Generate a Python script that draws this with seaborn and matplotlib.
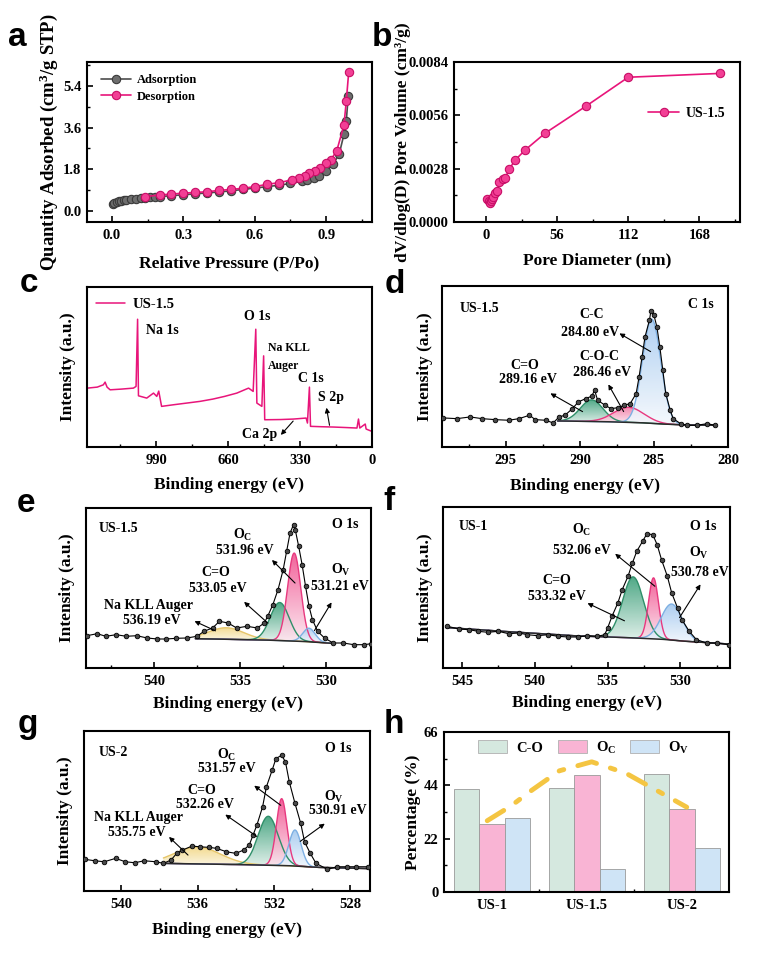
import numpy as np
import pandas as pd
import matplotlib
matplotlib.use("Agg")
import matplotlib.pyplot as plt
import seaborn as sns
from matplotlib.colors import LinearSegmentedColormap, to_rgb
from matplotlib.patches import FancyArrowPatch, Patch
from matplotlib.ticker import AutoMinorLocator, FixedLocator, FormatStrFormatter

# ---------------- data ----------------
# (a) N2 isotherm
ads_p = [0.005, 0.01, 0.02, 0.03, 0.04, 0.05, 0.06, 0.08, 0.10, 0.12, 0.14, 0.16, 0.18, 0.20,
         0.25, 0.30, 0.35, 0.40, 0.45, 0.50, 0.55, 0.60, 0.65, 0.70, 0.75, 0.80, 0.82, 0.85,
         0.87, 0.90, 0.93, 0.955, 0.975, 0.985, 0.993]
ads_q = [0.27, 0.33, 0.38, 0.41, 0.44, 0.46, 0.48, 0.50, 0.52, 0.54, 0.56, 0.58, 0.60, 0.61,
         0.65, 0.69, 0.73, 0.77, 0.81, 0.86, 0.92, 0.98, 1.04, 1.10, 1.18, 1.27, 1.33, 1.43,
         1.52, 1.72, 2.02, 2.45, 3.30, 3.90, 4.95]
des_p = [0.995, 0.985, 0.975, 0.945, 0.92, 0.90, 0.875, 0.855, 0.83, 0.81, 0.785, 0.755,
         0.70, 0.65, 0.60, 0.55, 0.50, 0.45, 0.40, 0.35, 0.30, 0.25, 0.20, 0.14]
des_q = [6.00, 4.75, 3.70, 2.60, 2.20, 2.05, 1.86, 1.73, 1.62, 1.52, 1.43, 1.33,
         1.21, 1.14, 1.04, 0.97, 0.92, 0.88, 0.82, 0.79, 0.76, 0.72, 0.68, 0.61]

# (b) pore size distribution
pore_d = [1.0, 2.1, 3.1, 3.9, 5.0, 5.8, 7.1, 8.9, 10.5, 13.1, 15.2, 18.4, 22.8, 31.0, 46.7, 78.7, 112.0, 184.0]
pore_v = [0.00123, 0.00109, 0.00100, 0.00109, 0.00123, 0.00132, 0.00150, 0.00162, 0.00211, 0.00224,
          0.00232, 0.00278, 0.00324, 0.00379, 0.00467, 0.00608, 0.00760, 0.00780]

# (c) survey spectrum
surv_be = [1305, 1260, 1232, 1224, 1215, 1201, 1150, 1094, 1082, 1075, 1071, 1033, 1002, 987, 978,
           965, 911, 850, 789, 730, 676, 620, 566, 545, 533, 528, 505, 497, 492, 420, 360, 302,
           296, 287, 282, 230, 177, 120, 69, 62, 56, 31, 27, 1]
surv_i = [59, 60, 62.3, 65, 60, 57.3, 58, 59, 60.7, 128, 51.3, 49, 54, 50.7, 56,
          40.7, 42.3, 44, 45.7, 48, 50.7, 54, 59, 55.7, 118, 44, 40.7, 91.3, 27.3, 27.5, 28, 29,
          24, 60, 20.7, 20.3, 20, 19.5, 19, 28, 19, 23, 18, 15.7]

# (d) C 1s
d_be = [299.2, 298.3, 297.4, 296.6, 295.7, 294.8, 294.1, 293.4, 293.0, 292.3, 291.8, 291.4, 291.0,
        290.5, 290.1, 289.6, 289.2, 289.0, 288.8, 288.3, 287.9, 287.4, 287.0, 286.6, 286.2, 286.0,
        285.8, 285.6, 285.3, 285.2, 285.0, 284.8, 284.6, 284.4, 284.2, 283.9, 283.7, 283.2, 282.8,
        282.1, 281.4, 280.9]
d_int = [29, 28.3, 30, 28.3, 27.3, 26.7, 28.3, 31.7, 27.3, 26.7, 24, 30, 31.7,
         38.3, 45, 48.3, 50.7, 56.7, 46.7, 41.7, 38.3, 39.3, 41.7, 43.3, 53.3, 70,
         90, 110, 126.7, 136, 131.7, 120, 100, 76.7, 53.3, 36.7, 28.3, 23.3, 21.7,
         21.7, 23.3, 21.7]
d_bg_be = [291.5, 289.5, 287.5, 285.5, 284.0, 282.5, 280.8]
d_bg_i = [26.0, 25.6, 25.0, 24.0, 22.6, 21.8, 21.7]
d_names = ["C=O", "C-O-C", "C-C"]
d_center = [289.2, 286.7, 285.15]
d_height = [21.5, 15.0, 104.0]
d_fwhm = [1.8, 2.4, 1.45]

# (e) O 1s US-1.5
e_be = [543.9, 543.3, 542.8, 542.2, 541.6, 541.0, 540.4, 539.8, 539.3, 538.7, 538.1, 537.5, 537.1,
        536.6, 536.2, 535.7, 535.2, 534.6, 534.0, 533.6, 533.4, 533.1, 532.8, 532.5, 532.3, 532.1,
        531.9, 531.8, 531.6, 531.4, 531.2, 531.0, 530.8, 530.5, 530.1, 529.6, 529.0, 528.4, 527.8, 527.4]
e_int = [32.3, 34.3, 31.7, 33.3, 31.7, 32.3, 30, 29, 29, 29.7, 30, 31.7, 36.7,
         40, 46.7, 45, 40, 41.7, 40, 45, 51.7, 63.3, 78.3, 98.3, 116.7, 135,
         143.3, 138.3, 121.7, 103.3, 81.7, 61.7, 48.3, 36.7, 30, 25, 25, 23.3, 23.3, 24.3]
e_bg_be = [537.6, 535.0, 533.0, 531.0, 529.5]
e_bg_i = [29.3, 28.5, 27.7, 26.3, 24.5]
e_names = ["Na KLL Auger", "C=O", "O_C", "O_V"]
e_center = [535.8, 532.7, 531.86, 531.0]
e_height = [11.5, 38.0, 88.0, 13.5]
e_fwhm = [2.4, 1.3, 0.9, 0.85]

# (f) O 1s US-1
f_be = [546.0, 545.2, 544.5, 543.9, 543.2, 542.5, 541.8, 541.1, 540.5, 539.8, 539.1, 538.4, 537.7,
        537.0, 536.4, 535.7, 535.2, 535.0, 534.7, 534.3, 534.0, 533.6, 533.3, 533.0, 532.6, 532.3,
        531.9, 531.6, 531.3, 530.9, 530.6, 530.2, 529.9, 529.4, 528.9, 528.2, 527.5, 526.7]
f_int = [41.7, 39, 38.3, 36.7, 35.7, 36.7, 34.3, 35, 33.3, 32.3, 33.3, 31.7, 31,
         31, 32.3, 31.7, 33.3, 40, 51.7, 65, 78.3, 91.7, 105, 116.7, 126.7, 134.3,
         133.3, 123.3, 108.3, 91.7, 75, 60, 48.3, 36.7, 28.3, 25, 25, 23.3]
f_bg_be = [546.1, 541.0, 537.0, 535.0, 533.0, 531.0, 529.5, 526.7]
f_bg_i = [40.5, 35.5, 32.0, 31.0, 30.0, 28.5, 26.5, 24.0]
f_names = ["C=O", "O_C", "O_V"]
f_center = [533.25, 531.85, 530.6]
f_height = [61.0, 61.0, 36.0]
f_fwhm = [1.7, 0.8, 1.7]

# (g) O 1s US-2
g_be = [541.9, 541.4, 540.9, 540.3, 539.8, 539.3, 538.8, 538.2, 537.8, 537.4, 537.1, 536.8, 536.3,
        535.9, 535.4, 535.0, 534.5, 534.0, 533.6, 533.3, 533.1, 532.9, 532.6, 532.4, 532.1, 531.9,
        531.6, 531.4, 531.2, 530.9, 530.6, 530.4, 530.1, 529.8, 529.2, 528.7, 528.2, 527.7, 527.1]
g_int = [31.7, 30.3, 29.3, 32.7, 29.3, 28.3, 30.3, 29.3, 27.7, 31, 37.7, 41, 45,
         44.3, 43.7, 42.7, 39.3, 37.7, 41, 46, 56, 66, 84.3, 104.3, 121, 132.7,
         136, 129.3, 109.3, 87.7, 67.7, 49.3, 37.7, 27.7, 21.7, 24.3, 24.3, 24.3, 24.3]
g_bg_be = [537.8, 535.0, 533.0, 531.0, 529.5, 527.1]
g_bg_i = [27.7, 26.8, 26.2, 25.2, 23.5, 22.5]
g_names = ["Na KLL Auger", "C=O", "O_C", "O_V"]
g_center = [536.0, 532.3, 531.6, 530.9]
g_height = [17.0, 49.0, 67.0, 36.0]
g_fwhm = [2.8, 1.25, 0.65, 0.75]

# (h) oxygen species percentage
samples = ["US-1", "US-1.5", "US-2"]
pct_co = [42.4, 42.9, 48.7]
pct_oc = [28.0, 48.3, 34.1]
pct_ov = [30.4, 9.3, 18.1]
trend_x = [-0.05, 0.2, 0.42, 0.71, 1.05, 1.41, 1.73, 2.05]
trend_y = [29.4, 35.5, 42.0, 50.0, 53.7, 49.0, 42.0, 35.0]

# ---------------- style ----------------
sns.set_style("ticks")
plt.rcParams.update({
    "font.family": ["Liberation Serif", "DejaVu Serif"],
    "font.weight": "bold",
    "axes.labelweight": "bold",
    "axes.linewidth": 1.5,
    "axes.edgecolor": "black",
    "axes.labelcolor": "black",
    "text.color": "black",
    "xtick.color": "black", "ytick.color": "black",
    "xtick.direction": "in", "ytick.direction": "in",
    "xtick.major.width": 1.2, "ytick.major.width": 1.2,
    "xtick.minor.width": 1.0, "ytick.minor.width": 1.0,
    "xtick.major.size": 4, "ytick.major.size": 4,
    "xtick.minor.size": 2.5, "ytick.minor.size": 2.5,
    "xtick.labelsize": 10.5, "ytick.labelsize": 10.5,
    "xtick.major.pad": 5, "ytick.major.pad": 4,
    "axes.labelsize": 12.5,
    "mathtext.fontset": "custom",
    "mathtext.rm": "Liberation Serif:bold",
    "mathtext.it": "Liberation Serif:bold:italic",
    "mathtext.bf": "Liberation Serif:bold",
})

W, H = 758, 958
fig = plt.figure(figsize=(W / 100, H / 100), dpi=100)


def add_ax(l, t, r, b):
    return fig.add_axes([l / W, 1 - b / H, (r - l) / W, (b - t) / H])


def txt(x, y, s, size=10, ha="center", **kw):
    fig.text(x / W, 1 - y / H, s, ha=ha, va="center", fontsize=size, fontweight="bold", **kw)


def arrow(x0, y0, x1, y1):
    fig.add_artist(FancyArrowPatch((x0 / W, 1 - y0 / H), (x1 / W, 1 - y1 / H),
                                   transform=fig.transFigure, arrowstyle="-|>",
                                   mutation_scale=7, lw=0.8, color="black"))


def letter(x, y, s):
    fig.text(x / W, 1 - y / H, s, fontsize=24, fontweight="bold",
             family=["Liberation Sans", "DejaVu Sans"], va="baseline", ha="left")


def label_pos(ax, ylab_x=None, xlab_y=None):
    if ylab_x is not None:
        ax.yaxis.set_label_coords(ylab_x, 0.5)
    if xlab_y is not None:
        ax.xaxis.set_label_coords(0.5, xlab_y)


def blend(c, f):
    r = np.array(to_rgb(c))
    return tuple(1 - (1 - r) * f)


def gauss(x, c, h, w):
    return h * np.exp(-4 * np.log(2) * ((x - c) / w) ** 2)


def grad_fill(ax, xs, base, top, col):
    poly = ax.fill_between(xs, base, top, facecolor="none", edgecolor="none")
    cmap = LinearSegmentedColormap.from_list("g", [blend(col, 0.12), col])
    grad = np.linspace(0, 1, 256).reshape(-1, 1)
    im = ax.imshow(grad, cmap=cmap, origin="lower", aspect="auto",
                   extent=[xs.min(), xs.max(), base.min(), top.max()],
                   alpha=0.9, zorder=1, interpolation="bilinear")
    im.set_clip_path(poly.get_paths()[0], transform=ax.transData)


COMP_STYLE = {
    "C=O": ("#3A9E78", "#2F8F69"),
    "C-O-C": ("#F27AA6", "#E8397F"),
    "C-C": ("#A8CBF0", "#7EB0E3"),
    "O_C": ("#F0508E", "#E8397F"),
    "O_V": ("#A3C8EF", "#7EB0E3"),
    "Na KLL Auger": ("#F2D784", "#E6C66A"),
}


def draw_xps(ax, be, inten, bg_be, bg_i, names, cen, hgt, fw, xlim, ylim, xticks):
    order = np.argsort(bg_be)
    xp = np.array(bg_be)[order]
    yp = np.array(bg_i)[order]
    xs = np.linspace(xp.min(), xp.max(), 900)
    bgs = np.interp(xs, xp, yp)
    for n, c, h, w in zip(names, cen, hgt, fw):
        fill_c, line_c = COMP_STYLE[n]
        top = bgs + gauss(xs, c, h, w)
        grad_fill(ax, xs, bgs, top, fill_c)
        ax.plot(xs, top, color=line_c, lw=1.0, zorder=2)
    ax.plot(xs, bgs, color="#2b2b2b", lw=1.1, zorder=3)
    sns.lineplot(x=be, y=inten, ax=ax, sort=False, color="black", lw=0.8, marker="o",
                 ms=3.3, mfc="#4a4a4a", mec="black", mew=0.6, zorder=5)
    ax.set_xlim(*xlim)
    ax.set_ylim(*ylim)
    ax.set_xticks(xticks)
    ax.xaxis.set_minor_locator(AutoMinorLocator(2))
    ax.set_yticks([])
    ax.set_xlabel("Binding energy (eV)")
    ax.set_ylabel("Intensity (a.u.)")


# ---------------- (a) ----------------
ax_a = add_ax(87, 62, 372, 222)
sns.lineplot(x=ads_p, y=ads_q, ax=ax_a, sort=False, color="#4d4d4d", lw=1.2, marker="o",
             ms=6, mfc="#6e6e6e", mec="#3a3a3a", mew=0.8, label="Adsorption")
sns.lineplot(x=des_p, y=des_q, ax=ax_a, sort=False, color="#E8157A", lw=1.2, marker="o",
             ms=6, mfc="#F23F95", mec="#C80E66", mew=0.8, label="Desorption")
ax_a.set_xlim(-0.105, 1.093)
ax_a.set_ylim(-0.49, 6.44)
ax_a.set_xticks([0.0, 0.3, 0.6, 0.9])
ax_a.set_yticks([0.0, 1.8, 3.6, 5.4])
ax_a.xaxis.set_major_formatter(FormatStrFormatter("%.1f"))
ax_a.yaxis.set_major_formatter(FormatStrFormatter("%.1f"))
ax_a.xaxis.set_minor_locator(AutoMinorLocator(2))
ax_a.yaxis.set_minor_locator(AutoMinorLocator(2))
ax_a.set_xlabel("Relative Pressure (P/Po)")
ax_a.set_ylabel("Quantity Adsorbed (cm$^{3}$/g STP)", fontsize=13.5)
ax_a.legend(loc="upper left", bbox_to_anchor=(0.03, 0.955), frameon=False, fontsize=9,
            handlelength=2.4, handletextpad=0.5, borderaxespad=0, labelspacing=0.35)
label_pos(ax_a, -0.095, -0.21)

# ---------------- (b) ----------------
ax_b = add_ax(454, 62, 740, 222)
sns.lineplot(x=pore_d, y=pore_v, ax=ax_b, sort=False, color="#E8157A", lw=1.2, marker="o",
             ms=6, mfc="#F23F95", mec="#C80E66", mew=0.8, label="US-1.5")
ax_b.set_xlim(-25.2, 200)
ax_b.set_ylim(0, 0.0084)
ax_b.set_xticks([0, 56, 112, 168])
ax_b.set_yticks([0.0, 0.0028, 0.0056, 0.0084])
ax_b.yaxis.set_major_formatter(FormatStrFormatter("%.4f"))
ax_b.xaxis.set_minor_locator(AutoMinorLocator(2))
ax_b.yaxis.set_minor_locator(AutoMinorLocator(2))
ax_b.set_xlabel("Pore Diameter (nm)")
ax_b.set_ylabel("dV/dlog(D) Pore Volume (cm³/g)")
ax_b.legend(loc="center left", bbox_to_anchor=(0.66, 0.68), frameon=False, fontsize=10,
            handlelength=2.2, handletextpad=0.5, borderaxespad=0)
label_pos(ax_b, -0.15, -0.19)

# ---------------- (c) ----------------
ax_c = add_ax(87, 287, 372, 447)
sns.lineplot(x=surv_be, y=surv_i, ax=ax_c, sort=False, color="#E8157A", lw=1.1, label="US-1.5")
ax_c.set_xlim(1307, 0)
ax_c.set_ylim(0, 160.3)
ax_c.set_xticks([990, 660, 330, 0])
ax_c.xaxis.set_minor_locator(AutoMinorLocator(2))
ax_c.set_yticks([])
ax_c.set_xlabel("Binding energy (eV)")
ax_c.set_ylabel("Intensity (a.u.)")
ax_c.legend(loc="center left", bbox_to_anchor=(0.01, 0.89), frameon=False, fontsize=10.5,
            handlelength=2.0, handletextpad=0.5, borderaxespad=0)
label_pos(ax_c, -0.04, -0.19)
txt(162, 330, "Na 1s")
txt(257, 316, "O 1s")
txt(289, 348, "Na KLL", size=8.5)
txt(284, 366, "Auger", size=8.5)
txt(311, 378, "C 1s")
txt(331, 398, "S 2p")
txt(260, 435, "Ca 2p")
arrow(330, 428, 326, 405)
arrow(295, 419, 279, 437)

# ---------------- (d) ----------------
ax_d = add_ax(442, 286, 728, 447)
draw_xps(ax_d, d_be, d_int, d_bg_be, d_bg_i, d_names, d_center, d_height, d_fwhm,
         (299.3, 280.0), (0, 160.7), [295, 290, 285, 280])
label_pos(ax_d, -0.03, -0.19)
txt(479, 308, "US-1.5")
txt(701, 305, "C 1s")
txt(592, 315, "C-C")
txt(590, 332, "284.80 eV")
txt(599, 357, "C-O-C")
txt(602, 373, "286.46 eV")
txt(525, 365, "C=O")
txt(528, 380, "289.16 eV")
arrow(653, 353, 617, 332)
arrow(625, 414, 607, 382)
arrow(585, 413, 548, 392)

# ---------------- (e) ----------------
ax_e = add_ax(86, 508, 371, 668)
draw_xps(ax_e, e_be, e_int, e_bg_be, e_bg_i, e_names, e_center, e_height, e_fwhm,
         (543.95, 527.4), (0, 160), [540, 535, 530])
label_pos(ax_e, -0.04, -0.175)
txt(118, 529, "US-1.5")
txt(345, 525, "O 1s")
txt(243, 535, r"O$_{\rm C}$")
txt(245, 550, "531.96 eV")
txt(341, 570, r"O$_{\rm V}$")
txt(340, 587, "531.21 eV")
txt(216, 573, "C=O")
txt(218, 588, "533.05 eV")
txt(148, 606, "Na KLL Auger")
txt(152, 620, "536.19 eV")
arrow(297, 585, 270, 558)
arrow(313, 633, 333, 600)
arrow(270, 625, 242, 600)
arrow(218, 632, 192, 620)

# ---------------- (f) ----------------
ax_f = add_ax(443, 507, 730, 668)
draw_xps(ax_f, f_be, f_int, f_bg_be, f_bg_i, f_names, f_center, f_height, f_fwhm,
         (546.3, 526.6), (0, 161), [545, 540, 535, 530])
label_pos(ax_f, -0.035, -0.17)
txt(473, 527, "US-1")
txt(703, 527, "O 1s")
txt(582, 530, r"O$_{\rm C}$")
txt(582, 550, "532.06 eV")
txt(699, 553, r"O$_{\rm V}$")
txt(700, 573, "530.78 eV")
txt(557, 580, "C=O")
txt(557, 597, "533.32 eV")
arrow(657, 588, 613, 552)
arrow(678, 620, 702, 582)
arrow(627, 622, 585, 602)

# ---------------- (g) ----------------
ax_g = add_ax(84, 731, 370, 891)
draw_xps(ax_g, g_be, g_int, g_bg_be, g_bg_i, g_names, g_center, g_height, g_fwhm,
         (541.96, 526.97), (0, 160.3), [540, 536, 532, 528])
label_pos(ax_g, -0.038, -0.195)
txt(113, 753, "US-2")
txt(338, 748, "O 1s")
txt(227, 755, r"O$_{\rm C}$")
txt(227, 769, "531.57 eV")
txt(202, 790, "C=O")
txt(205, 805, "532.26 eV")
txt(334, 797, r"O$_{\rm V}$")
txt(338, 811, "530.91 eV")
txt(138, 817, "Na KLL Auger")
txt(137, 833, "535.75 eV")
arrow(283, 807, 252, 784)
arrow(259, 838, 223, 813)
arrow(298, 843, 327, 822)
arrow(190, 857, 167, 835)

# ---------------- (h) ----------------
ax_h = add_ax(444, 732, 729, 892)
comp_labels = ["C-O", r"O$_{\rm C}$", r"O$_{\rm V}$"]
bar_cols = ["#D5E8DF", "#F9B4D4", "#CFE4F6"]
df = pd.DataFrame({
    "sample": samples * 3,
    "comp": [comp_labels[0]] * 3 + [comp_labels[1]] * 3 + [comp_labels[2]] * 3,
    "pct": pct_co + pct_oc + pct_ov,
})
sns.barplot(data=df, x="sample", y="pct", hue="comp", palette=bar_cols, saturation=1,
            width=0.8, edgecolor="#9a9a9a", linewidth=0.6, ax=ax_h, legend=False)
ax_h.plot(trend_x, trend_y, color="#F4C542", lw=3.5, ls=(0, (4, 3, 1, 3)),
          dash_capstyle="round", zorder=4)
ax_h.set_xlim(-0.505, 2.495)
ax_h.set_ylim(0, 66)
ax_h.set_yticks([0, 22, 44, 66])
ax_h.yaxis.set_minor_locator(AutoMinorLocator(2))
ax_h.xaxis.set_minor_locator(FixedLocator([0.5, 1.5]))
ax_h.tick_params(axis="x", which="major", length=0)
ax_h.set_xlabel("")
ax_h.set_ylabel("Percentage (%)")
handles = [Patch(facecolor=c, edgecolor="#b0b0b0", lw=0.6) for c in bar_cols]
ax_h.legend(handles, comp_labels, loc="center", bbox_to_anchor=(0.49, 0.9), ncol=3,
            frameon=False, fontsize=10.5, handlelength=2.0, handleheight=1.0,
            columnspacing=1.0, handletextpad=0.6, borderaxespad=0)
label_pos(ax_h, -0.08, None)

# ---------------- panel letters ----------------
letter(8, 46, "a")
letter(372, 46, "b")
letter(20, 292, "c")
letter(385, 293, "d")
letter(17, 512, "e")
letter(383, 510, "f")
letter(18, 733, "g")
letter(384, 733, "h")

fig.savefig("out.png", dpi=100)
